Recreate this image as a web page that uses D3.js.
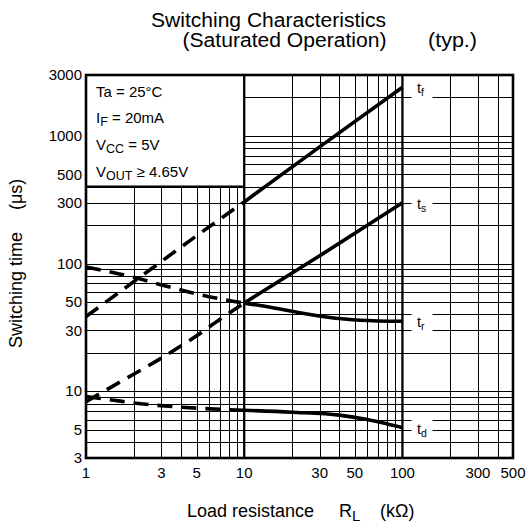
<!DOCTYPE html>
<html>
<head>
<meta charset="utf-8">
<script src="https://cdn.jsdelivr.net/npm/d3@7"></script>
<style>
  html, body { margin: 0; padding: 0; background: #fff; }
  svg { display: block; }
  text { font-family: "Liberation Sans", Arial, Helvetica, sans-serif; fill: #000; }
</style>
</head>
<body>
<div id="chart"></div>
<script>
// ---------------- data ----------------
const xTickLabels = [1, 3, 5, 10, 30, 50, 100, 300, 500];
const yTickLabels = [3, 5, 10, 30, 50, 100, 300, 500, 1000, 3000];
const xGridValues = [2,3,4,5,6,7,8,9,20,30,40,50,60,70,80,90,200,300,400];
const xMajorValues = [10, 100];
const yGridValues = [4,5,6,7,8,9,10,20,30,40,50,60,70,80,90,100,200,300,400,500,600,700,800,900,1000,2000];

// [RL (kOhm), time (us)]
const tfDashed = [[1, 38.5], [2, 72], [5, 165], [10, 304]];
const tfSolid  = [[10, 304], [30, 820], [100, 2400]];
const tsDashed = [[1, 8.3], [2, 13.6], [3, 18.2], [5, 27.2], [7, 36.5], [10, 49]];
const tsSolid  = [[10, 49], [30, 115], [100, 300]];
const trDashed = [[1, 94], [2, 78], [3, 68], [5, 58], [7, 53], [10, 49]];
const trSolid  = [[10, 49], [12.6, 47], [20, 42.3], [33, 38.2], [54, 36], [100, 35.3]];
const tdDashed = [[1, 9.1], [1.5, 8.5], [2, 8.1], [4, 7.5], [10, 7.1]];
const tdSolid  = [[10, 7.1], [20, 6.85], [40, 6.5], [60, 6.0], [80, 5.55], [100, 5.2]];

const curveNames = ["f", "s", "r", "d"];
const curveEnds = [2400, 300, 35.3, 5.2];

const legendLines = [
  [["Ta = 25°C", false]],
  [["I", false], ["F", true], [" = 20mA", false]],
  [["V", false], ["CC", true], [" = 5V", false]],
  [["V", false], ["OUT", true], [" ≥ 4.65V", false]]
];

// ---------------- layout ----------------
const W = 527, H = 525;
const L = 86, R = 513, T = 75, B = 458;

const svg = d3.select("#chart").append("svg").attr("width", W).attr("height", H);
svg.append("rect").attr("width", W).attr("height", H).attr("fill", "#fff");

const x = d3.scaleLog().domain([1, 500]).range([L, R]);
const y = d3.scaleLog().domain([3, 3000]).range([B, T]);

// grid
const grid = svg.append("g").attr("stroke", "#000").attr("shape-rendering", "crispEdges");
grid.selectAll("line.h").data(yGridValues).join("line")
  .attr("x1", L).attr("x2", R)
  .attr("y1", d => Math.round(y(d)) + 0.5).attr("y2", d => Math.round(y(d)) + 0.5)
  .attr("stroke-width", 1.3);
grid.selectAll("line.v").data(xGridValues).join("line")
  .attr("y1", T).attr("y2", B)
  .attr("x1", d => Math.round(x(d)) + 0.5).attr("x2", d => Math.round(x(d)) + 0.5)
  .attr("stroke-width", 1.3);

// legend box (covers grid in upper-left)
const boxBottom = y(400);
svg.append("rect").attr("x", L).attr("y", T).attr("width", x(10) - L).attr("height", boxBottom - T)
  .attr("fill", "#fff");
svg.append("line").attr("x1", L).attr("x2", x(10)).attr("y1", boxBottom).attr("y2", boxBottom)
  .attr("stroke", "#000").attr("stroke-width", 2.4);

// major vertical lines
svg.append("g").selectAll("line").data(xMajorValues).join("line")
  .attr("y1", T).attr("y2", B).attr("x1", d => x(d)).attr("x2", d => x(d))
  .attr("stroke", "#000").attr("stroke-width", 2.3);

// frame
svg.append("rect").attr("x", L).attr("y", T).attr("width", R - L).attr("height", B - T)
  .attr("fill", "none").attr("stroke", "#000").attr("stroke-width", 2.6);

// curves
const line = d3.line().x(d => x(d[0])).y(d => y(d[1])).curve(d3.curveMonotoneX);
const curves = svg.append("g").attr("fill", "none").attr("stroke", "#000")
  .attr("stroke-width", 3.6);
[tfDashed, tsDashed, trDashed, tdDashed].forEach(s => {
  curves.append("path").attr("d", line(s)).attr("stroke-dasharray", "15,9");
});
[tfSolid, tsSolid, trSolid, tdSolid].forEach(s => {
  curves.append("path").attr("d", line(s)).attr("stroke-linecap", "butt");
});

// curve labels
const lab = svg.append("g");
curveNames.forEach((n, i) => {
  const cy = y(curveEnds[i]) + 1;
  lab.append("rect").attr("x", 411.5).attr("y", cy - 10).attr("width", 21).attr("height", 20).attr("fill", "#fff");
  const t = lab.append("text").attr("x", 417).attr("y", cy + 5).attr("font-size", 14.5);
  t.append("tspan").text("t");
  t.append("tspan").attr("dy", 3).attr("font-size", 10.5).text(n);
});

// legend text
const legBase = [96.5, 123, 150, 176.7];
legendLines.forEach((parts, i) => {
  const t = svg.append("text").attr("x", 96).attr("y", legBase[i]).attr("font-size", 15);
  let shifted = false;
  parts.forEach(([s, sub]) => {
    const ts = t.append("tspan").text(s);
    if (sub && !shifted) { ts.attr("dy", 3).attr("font-size", 12.5); shifted = true; }
    else if (!sub && shifted) { ts.attr("dy", -3); shifted = false; }
  });
});

// tick labels
svg.append("g").selectAll("text").data(xTickLabels).join("text")
  .attr("x", d => x(d)).attr("y", 478).attr("text-anchor", "middle")
  .attr("font-size", 15).text(d => d);
svg.append("g").selectAll("text").data(yTickLabels).join("text")
  .attr("x", 82).attr("y", d => y(d) + 5.2).attr("text-anchor", "end")
  .attr("font-size", 15).text(d => d);

// titles
svg.append("text").attr("x", 268.5).attr("y", 27).attr("text-anchor", "middle")
  .attr("font-size", 19.5).attr("textLength", 235).attr("lengthAdjust", "spacingAndGlyphs")
  .text("Switching Characteristics");
svg.append("text").attr("x", 182.5).attr("y", 47).attr("font-size", 19.5)
  .attr("textLength", 204).attr("lengthAdjust", "spacingAndGlyphs")
  .text("(Saturated Operation)");
svg.append("text").attr("x", 428).attr("y", 47).attr("font-size", 19.5)
  .attr("textLength", 49).attr("lengthAdjust", "spacingAndGlyphs")
  .text("(typ.)");

// axis titles
const xt = svg.append("text").attr("y", 517).attr("font-size", 18);
xt.append("tspan").attr("x", 187).text("Load resistance");
xt.append("tspan").attr("x", 339).text("R");
xt.append("tspan").attr("dy", 4).attr("font-size", 15).text("L");
xt.append("tspan").attr("x", 380).attr("dy", -4).text("(kΩ)");

const yt = svg.append("text").attr("transform", "translate(22,348) rotate(-90)").attr("font-size", 18);
yt.append("tspan").attr("x", 0).text("Switching time");
yt.append("tspan").attr("x", 138).text("(μs)");
</script>
</body>
</html>
